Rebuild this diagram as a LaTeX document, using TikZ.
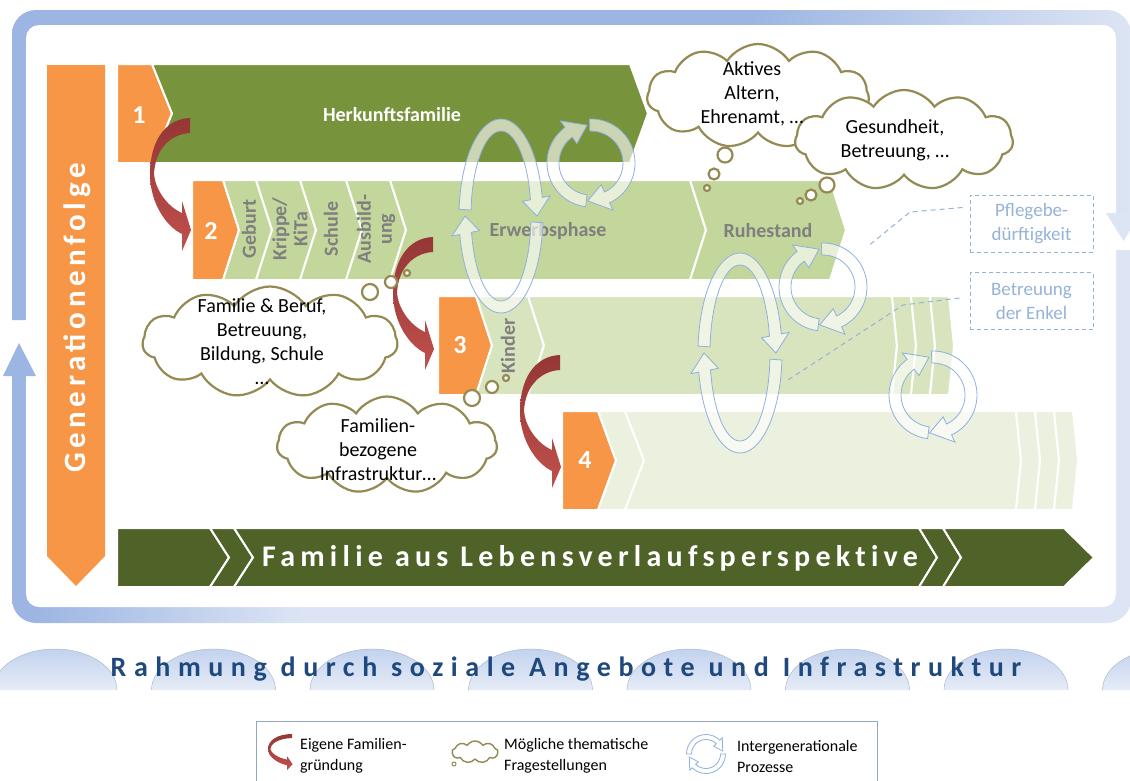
\documentclass[tikz,border=0pt]{standalone}
\usepackage{fontspec}
\setmainfont{Carlito}
\usetikzlibrary{arrows.meta,positioning,shapes.symbols}

\definecolor{orangebox}{HTML}{F79646}
\definecolor{herkunft}{HTML}{77933C}
\definecolor{rowtwo}{HTML}{C3D69B}
\definecolor{rowthree}{HTML}{D7E4BD}
\definecolor{rowfour}{HTML}{EBF1DE}
\definecolor{lebensband}{HTML}{4F6228}
\definecolor{phasegray}{HTML}{7F7F7F}
\definecolor{cloudline}{HTML}{948A54}
\definecolor{gruendA}{HTML}{953735}
\definecolor{gruendB}{HTML}{C0504D}
\definecolor{frameA}{HTML}{9CB5E2}
\definecolor{frameB}{HTML}{DDE5F4}
\definecolor{cycline}{HTML}{8EB0DE}
\definecolor{pflegeblue}{HTML}{95B3D7}
\definecolor{rahmung}{HTML}{1F497D}
\definecolor{domeA}{HTML}{C2D2EE}
\definecolor{domeB}{HTML}{E6ECF7}

\pgfdeclarehorizontalshading{upperframe}{100bp}{color(0bp)=(frameA); color(25bp)=(frameA); color(58bp)=(frameA); color(75bp)=(frameB); color(100bp)=(frameB)}
\pgfdeclarehorizontalshading{lowerframe}{100bp}{color(0bp)=(frameA); color(26bp)=(frameA); color(38bp)=(frameB); color(100bp)=(frameB)}

% chevron segment: [style]{x left}{left tip}{x right}{right tip}{y top}{y bottom}
\newcommand\chev[7][]{%
  \filldraw[seg,#1] (#2,#6) -- (#4,#6) -- ({#4+#5},{(#6+#7)/2}) -- (#4,#7)
    -- (#2,#7) -- ({#2+#3},{(#6+#7)/2}) -- cycle;}

% curved arrow (Familiengruendung): {x}{y} of top right corner, {xscale}{yscale}
\newcommand\gruendung[4]{%
  \begin{scope}[shift={(#1,#2)}, xscale=#3, yscale=#4]
    \shade[top color=gruendA, bottom color=gruendB]
      (0,0) .. controls (-26,1) and (-40,25) .. (-40,56)
      .. controls (-40,86) and (-23,109) .. (-8,116)
      -- (-8,133) -- (1,112) -- (-8,83) -- (-8,95)
      .. controls (-24,88) and (-35,70) .. (-36,56)
      .. controls (-35,32) and (-20,16) .. (0,15) -- cycle;
  \end{scope}}

% arc arrow band: {cx}{cy}{rx}{ry}{from}{to}{head angle}
\def\cychw{6}\def\cyhhw{14}
\newcommand\cycarc[7]{%
  \pgfmathsetmacro\cyce{#6-#7}%
  \pgfmathsetmacro\cxo{#3+\cychw}\pgfmathsetmacro\cyo{#4+\cychw}%
  \pgfmathsetmacro\cxi{#3-\cychw}\pgfmathsetmacro\cyi{#4-\cychw}%
  \pgfmathsetmacro\hxo{#3+\cyhhw}\pgfmathsetmacro\hyo{#4+\cyhhw}%
  \pgfmathsetmacro\hxi{#3-\cyhhw}\pgfmathsetmacro\hyi{#4-\cyhhw}%
  \filldraw[cyc] ({#1+\cxo*cos(#5)},{#2+\cyo*sin(#5)})
    arc[start angle=#5, end angle=\cyce, x radius=\cxo, y radius=\cyo]
    -- ({#1+\hxo*cos(\cyce)},{#2+\hyo*sin(\cyce)})
    -- ({#1+#3*cos(#6)},{#2+#4*sin(#6)})
    -- ({#1+\hxi*cos(\cyce)},{#2+\hyi*sin(\cyce)})
    -- ({#1+\cxi*cos(\cyce)},{#2+\cyi*sin(\cyce)})
    arc[start angle=\cyce, end angle=#5, x radius=\cxi, y radius=\cyi]
    -- cycle;}

\begin{document}
\begin{tikzpicture}[x=1pt, y=-1pt,
  seg/.style={draw=white, line width=2pt, line join=miter},
  numlabel/.style={text=white, font=\fontsize{26}{30}\selectfont\bfseries},
  phase/.style={text=phasegray, font=\fontsize{20}{21}\selectfont\bfseries,
    align=center, inner sep=0pt},
  genlabel/.style={text=white,
    font=\fontsize{31}{34}\selectfont\bfseries\addfontfeature{LetterSpace=15}},
  bandtext/.style={text=white, font=\fontsize{30}{34}\selectfont\bfseries
    \addfontfeature{LetterSpace=17.5, Ligatures=NoCommon}},
  thought/.style={cloud, cloud puffs=11, cloud puff arc=115, cloud ignores aspect,
    draw=cloudline, line width=2.2pt, fill=white, inner sep=0pt},
  bubble/.style={circle, draw=cloudline, line width=2.2pt, fill=white, inner sep=0pt},
  ctext/.style={align=center, font=\fontsize{20}{24}\selectfont, inner sep=0pt},
  cyc/.style={draw=cycline, line width=0.8pt, fill=white, fill opacity=0.62},
  pflegebox/.style={draw=pflegeblue, dash pattern=on 4pt off 3pt, line width=1pt,
    text=pflegeblue, align=center, font=\fontsize{19}{24}\selectfont,
    minimum width=123pt, minimum height=57pt, inner sep=0pt},
  hint/.style={draw=pflegeblue, line width=1pt, dash pattern=on 5pt off 4pt},
  legtext/.style={anchor=west, align=left, font=\fontsize{16}{21}\selectfont, inner sep=0pt}]

\clip (0,0) rectangle (1130,780);

% frame arrows
\begin{scope}
  \clip (-5,-5) -- (1140,-5) -- (1140,213) -- (1000,213) -- (200,320) -- (-5,320) -- cycle;
  \shade[shading=upperframe, rounded corners=24pt] (12,10) rectangle (1131,623);
\end{scope}
\begin{scope}
  \clip (-5,376) -- (200,376) -- (1000,250) -- (1140,250) -- (1140,640) -- (-5,640) -- cycle;
  \shade[shading=lowerframe, rounded corners=24pt] (12,10) rectangle (1131,623);
\end{scope}
\fill[white, rounded corners=13pt] (26,25) rectangle (1116,607);
\fill[frameA] (3,376) -- (19,343) -- (36,376) -- cycle;
\fill[frameB] (1106,213) -- (1141,213) -- (1123.5,241) -- cycle;

% Generationenfolge
\fill[orangebox] (47,65) -- (105,65) -- (105,556) -- (76,586) -- (47,556) -- cycle;
\node[genlabel, rotate=90] (generation) at (77,318) {Generationenfolge};

% row 1
\chev[fill=orangebox]{117}{0}{152}{20}{64}{163}
\chev[fill=herkunft]{152}{20}{630}{18}{64}{163}
% row 2
\chev[fill=orangebox]{192}{0}{223}{16}{180}{280}
\foreach \xa/\xb in {223/256, 256/300, 300/346, 346/390, 390/690, 690/830}
  {\chev[fill=rowtwo]{\xa}{16}{\xb}{16}{180}{280}}
% row 3
\chev[fill=orangebox]{438}{0}{476}{16}{296}{395}
\chev[fill=rowthree]{476}{16}{528}{16}{296}{395}
\chev[fill=rowthree]{528}{16}{892}{5}{296}{395}
\foreach \xa/\xb in {892/911, 911/930, 930/949}
  {\chev[fill=rowthree]{\xa}{5}{\xb}{5}{296}{395}}
% row 4
\chev[fill=orangebox]{562}{0}{598}{18}{411}{510}
\chev[fill=rowfour]{598}{18}{625}{19}{411}{510}
\chev[fill=rowfour]{625}{19}{1016}{5}{411}{510}
\foreach \xa/\xb in {1016/1035, 1035/1054, 1054/1073}
  {\chev[fill=rowfour]{\xa}{5}{\xb}{5}{411}{510}}
% life course band
\chev[fill=lebensband]{117}{0}{210}{19}{528}{587}
\chev[fill=lebensband]{210}{19}{234}{19}{528}{587}
\chev[fill=lebensband]{234}{19}{919}{18}{528}{587}
\chev[fill=lebensband]{919}{18}{943}{18}{528}{587}
\chev[fill=lebensband]{943}{18}{1064}{30}{528}{587}
\node[bandtext] (lebenslauf) at (590,558) {Familie aus Lebensverlaufsperspektive};

% labels in the rows
\node[numlabel] (n1) at (139,115) {1};
\node[numlabel] (n2) at (211,231) {2};
\node[numlabel] (n3) at (460,345) {3};
\node[numlabel] (n4) at (585,460) {4};
\node[text=white, font=\fontsize{20}{24}\selectfont\bfseries] (herkunft) at (392,115) {Herkunftsfamilie};
\node[phase, rotate=90] (geburt) at (249,229) {Geburt};
\node[phase, rotate=90] (krippe) at (290,229) {Krippe/\\KiTa};
\node[phase, rotate=90] (schule) at (331,229) {Schule};
\node[phase, rotate=90] (ausbildung) at (376,229) {Ausbild-\\ung};
\node[phase] (erwerb) at (548,231) {Erwerbsphase};
\node[phase] (ruhe) at (768,231) {Ruhestand};
\node[phase, rotate=90] (kinder) at (508,346) {Kinder};

% Familiengruendung
\gruendung{190}{118}{1}{1}
\gruendung{433}{237}{1}{1}
\gruendung{560}{355}{1}{1}

% intergenerationale Prozesse
\cycarc{501}{216}{36}{91}{184}{360}{11}
\cycarc{501}{216}{36}{91}{4}{180}{11}
\cycarc{740}{353}{36}{94}{184}{360}{11}
\cycarc{740}{353}{36}{94}{4}{180}{11}
\foreach \cx/\cy in {591/163, 823/287, 933/395} {
  \cycarc{\cx}{\cy}{38}{38}{268}{455}{30}
  \cycarc{\cx}{\cy}{38}{38}{97}{264}{30}
}

% thematische Fragestellungen
\node[thought, minimum width=222pt, minimum height=104pt] (caktiv) at (758,96) {};
\node[thought, minimum width=218pt, minimum height=100pt] (cgesund) at (904,140) {};
\node[thought, minimum width=255pt, minimum height=111pt] (cberuf) at (270,342) {};
\node[thought, minimum width=220pt, minimum height=97pt] (cinfra) at (387,445) {};
\node[bubble, minimum size=15pt] (ba1) at (725,155) {};
\node[bubble, minimum size=11pt] (ba2) at (714,174) {};
\node[bubble, minimum size=6pt] (ba3) at (707,188) {};
\node[bubble, minimum size=15pt] (bg1) at (827,185) {};
\node[bubble, minimum size=11pt] (bg2) at (811,195) {};
\node[bubble, minimum size=6pt] (bg3) at (800,201) {};
\node[bubble, minimum size=16pt] (bb1) at (370,292) {};
\node[bubble, minimum size=12pt] (bb2) at (391,282) {};
\node[bubble, minimum size=6pt] (bb3) at (407,273) {};
\node[bubble, minimum size=16pt] (bi1) at (472,398) {};
\node[bubble, minimum size=12pt] (bi2) at (492,387) {};
\node[bubble, minimum size=6pt] (bi3) at (506,378) {};
\node[ctext] (taktiv) at (752,94) {Aktives\\Altern,\\Ehrenamt, …};
\node[ctext] (tgesund) at (895,140) {Gesundheit,\\Betreuung, …};
\node[ctext] (tberuf) at (262,342) {Familie \& Beruf,\\Betreuung,\\Bildung, Schule\\…};
\node[ctext] (tinfra) at (378,450) {Familien-\\bezogene\\Infrastruktur…};

% Hinweise
\node[pflegebox] (pflege) at (1031.5,223.5) {Pflegebe-\\dürftigkeit};
\node[pflegebox] (enkel) at (1031.5,301) {Betreuung\\der Enkel};
\coordinate (pflegeknick) at (910,212);
\coordinate (pflegeziel) at (867,247);
\coordinate (enkelknick) at (903,305);
\coordinate (enkelziel) at (788,380);
\draw[hint] ([shift={(-7pt,16pt)}]pflege.west) -- (pflegeknick) -- (pflegeziel);
\draw[hint] ([shift={(-10pt,3pt)}]enkel.west) -- (enkelknick) -- (enkelziel);

% Rahmung
\foreach \i in {0,...,7}
  \shadedraw[top color=domeA, bottom color=domeB, draw=domeA!70!gray, line width=0.5pt]
    ({55+158.5*\i-62},690) arc[start angle=180, end angle=360, x radius=62, y radius=41];
\node[text=rahmung, font=\fontsize{28}{32}\selectfont\bfseries\addfontfeature{LetterSpace=27}]
  (rahmung) at (566,669) {Rahmung durch soziale Angebote und Infrastruktur};

% legend
\draw[draw=pflegeblue!80!gray, line width=0.8pt] (256,721) rectangle (877,795);
\gruendung{292}{734}{0.6}{0.27}
\node[legtext] (lgruend) at (300,756) {Eigene Familien-\\gründung};
\node[thought, minimum width=46pt, minimum height=22pt, line width=1.4pt, cloud puffs=9] (lcloud) at (475,752) {};
\node[bubble, minimum size=4pt, line width=1pt] (lbubble) at (454,764) {};
\node[legtext] (lthema) at (504,756) {Mögliche thematische\\Fragestellungen};
\begin{scope}
  \def\cychw{2.5}\def\cyhhw{6}
  \cycarc{706}{754}{17}{17}{0}{170}{35}
  \cycarc{706}{754}{17}{17}{180}{350}{35}
\end{scope}
\node[legtext] (lprozess) at (737,756) {Intergenerationale\\Prozesse};
\end{tikzpicture}
\end{document}
